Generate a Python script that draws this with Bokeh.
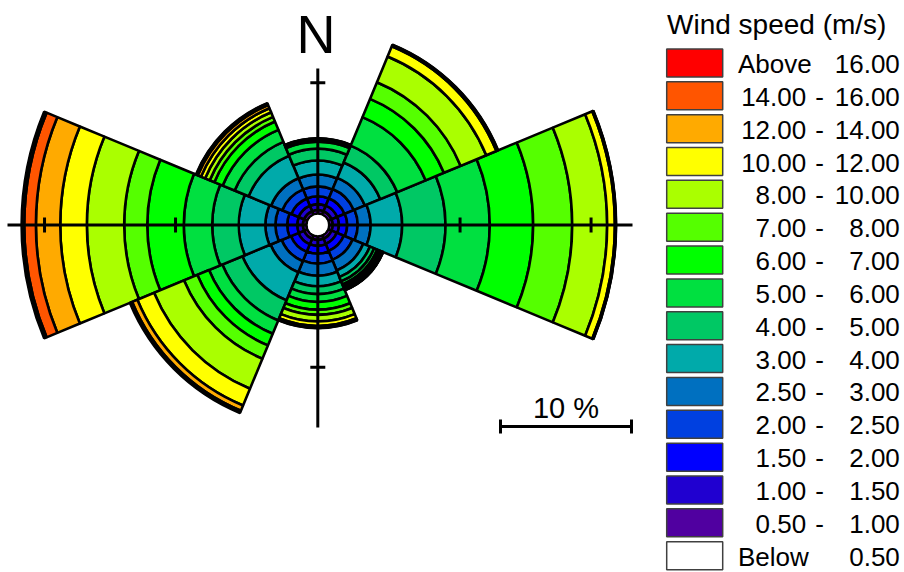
import numpy as np
from bokeh.plotting import figure
from bokeh.models import Range1d, ColumnDataSource
from bokeh.embed import file_html
from bokeh.resources import INLINE
from bokeh.core.properties import value

# ---------------- data ----------------
directions = ["N", "NE", "E", "SE", "S", "SW", "W", "NW"]
bearings = [0, 45, 90, 135, 180, 225, 270, 315]

# frequency (%) per speed class for each direction (order of `directions`)
f_050_100 = [0.28, 0.28, 0.28, 0.27, 0.28, 0.28, 0.28, 0.28]
f_100_150 = [0.45, 0.46, 0.47, 0.44, 0.45, 0.46, 0.43, 0.45]
f_150_200 = [0.60, 0.61, 0.63, 0.58, 0.60, 0.62, 0.76, 0.60]
f_200_250 = [0.75, 0.76, 0.80, 0.73, 0.75, 0.77, 0.90, 0.75]
f_250_300 = [0.90, 0.92, 0.98, 0.88, 0.92, 0.92, 0.76, 0.92]
f_300_400 = [1.07, 1.27, 2.42, 0.55, 0.80, 2.32, 2.04, 1.86]
f_400_500 = [0.90, 1.40, 3.31, 0.35, 0.60, 1.66, 2.03, 1.15]
f_500_600 = [0.55, 2.35, 3.38, 0.25, 0.60, 1.10, 2.17, 0.99]
f_600_700 = [0.08, 1.51, 3.31, 0.20, 0.60, 0.96, 2.79, 0.69]
f_700_800 = [0.05, 1.38, 2.98, 0.10, 0.40, 1.10, 1.76, 0.38]
f_800_1000 = [0.05, 2.12, 2.67, 0.10, 0.50, 2.48, 2.85, 0.38]
f_1000_1200 = [0.03, 0.84, 0.59, 0.05, 0.35, 1.38, 2.03, 0.34]
f_1200_1400 = [0.02, 0.08, 0.06, 0.02, 0.10, 0.43, 1.86, 0.27]
f_1400_1600 = [0.01, 0.04, 0.02, 0.01, 0.05, 0.12, 0.89, 0.12]
f_above_1600 = [0.01, 0.02, 0.01, 0.01, 0.02, 0.07, 0.20, 0.03]

class_freqs = [f_050_100, f_100_150, f_150_200, f_200_250, f_250_300,
               f_300_400, f_400_500, f_500_600, f_600_700, f_700_800,
               f_800_1000, f_1000_1200, f_1200_1400, f_1400_1600, f_above_1600]
class_colors = ["#5000A0", "#2000D0", "#0000FF", "#0040E0", "#0070C0",
                "#00AAAA", "#00C864", "#00E040", "#00FF00", "#55FF00",
                "#AAFF00", "#FFFF00", "#FFAA00", "#FF5500", "#FF0000"]

# legend (top to bottom)
legend_lo = ["Above", "14.00", "12.00", "10.00", "8.00", "7.00", "6.00", "5.00",
             "4.00", "3.00", "2.50", "2.00", "1.50", "1.00", "0.50", "Below"]
legend_hi = ["16.00", "16.00", "14.00", "12.00", "10.00", "8.00", "7.00", "6.00",
             "5.00", "4.00", "3.00", "2.50", "2.00", "1.50", "1.00", "0.50"]
legend_colors = class_colors[::-1] + ["#FFFFFF"]

calm_offset = 0.86      # radius of the central calm hole, in %
ring_ticks = [10, 20]   # % rings marked on the axes
scale_bar_pct = 10

# ---------------- layout ----------------
W, H = 902, 572
S = 13.1                 # pixels per percent
CX, CY = 317.3, 224.5    # rose centre in page pixels
OX, OY = 0, 0


def dx(ix):
    return (ix - CX) / S


def dy(iy):
    return (CY - iy) / S


p = figure(width=W, height=H,
           x_range=Range1d(dx(OX), dx(OX + W)),
           y_range=Range1d(dy(OY + H), dy(OY)),
           output_backend="svg", toolbar_location=None, min_border=0,
           x_axis_type=None, y_axis_type=None)
p.outline_line_color = None
p.background_fill_color = "white"
p.border_fill_color = "white"

FONT = value("Liberation Sans")

# ---------------- rose ----------------
b = np.array(bearings, dtype=float)
start = np.radians(90 - (b + 22.5))
end = np.radians(90 - (b - 22.5))
cum = np.zeros(len(directions))
for freqs, col in zip(class_freqs, class_colors):
    f = np.array(freqs)
    src = ColumnDataSource(dict(inner=calm_offset + cum, outer=calm_offset + cum + f,
                                start=start, end=end))
    p.annular_wedge(x=0, y=0, inner_radius="inner", outer_radius="outer",
                    start_angle="start", end_angle="end", source=src,
                    fill_color=col, line_color="black", line_width=2.6)
    cum = cum + f

# axes through the centre
p.segment(x0=[dx(7), 0], y0=[0, dy(68)], x1=[dx(632), 0], y1=[0, dy(427)],
          line_color="black", line_width=3)
tl = 7.5 / S
for t in ring_ticks:
    r = calm_offset + t
    p.segment(x0=[r, -r], y0=[-tl, -tl], x1=[r, -r], y1=[tl, tl],
              line_color="black", line_width=3)
r = calm_offset + ring_ticks[0]
p.segment(x0=[-tl, -tl], y0=[r, -r], x1=[tl, tl], y1=[r, -r],
          line_color="black", line_width=3)

# calm hole
p.circle(x=[0], y=[0], radius=calm_offset * 0.9, fill_color="white", line_color=None)

# north label
p.text(x=[dx(315.5)], y=[dy(33)], text=["N"], text_font=FONT,
       text_font_size=value("54px"), text_align="center",
       text_baseline="middle", text_color="black")

# scale bar
x0 = dx(500)
ys = dy(426)
p.segment(x0=[x0], y0=[ys], x1=[x0 + scale_bar_pct], y1=[ys], line_color="black", line_width=3)
p.segment(x0=[x0, x0 + scale_bar_pct], y0=[ys - 7 / S] * 2, x1=[x0, x0 + scale_bar_pct],
          y1=[ys + 7 / S] * 2, line_color="black", line_width=3)
p.text(x=[x0 + scale_bar_pct / 2], y=[dy(407)], text=[f"{scale_bar_pct} %"], text_font=FONT,
       text_font_size=value("29px"), text_align="center", text_baseline="middle")

# ---------------- legend ----------------
p.text(x=[dx(666.5)], y=[dy(24)], text=["Wind speed (m/s)"], text_font=FONT,
       text_font_size=value("28px"), text_align="left", text_baseline="middle")
rows = np.arange(len(legend_lo))
cy_img = 62.45 + 32.85 * rows
p.rect(x=[dx(694.2)] * len(rows), y=[dy(v) for v in cy_img], width=56, height=28,
       width_units="screen", height_units="screen", fill_color=legend_colors,
       line_color="#404040", line_width=1.5)
base = [dy(v + 1) for v in cy_img]
word_idx = [i for i, s in enumerate(legend_lo) if not s[0].isdigit()]
num_idx = [i for i, s in enumerate(legend_lo) if s[0].isdigit()]
LFS = value("26px")
p.text(x=[dx(737.5)] * len(word_idx), y=[base[i] for i in word_idx],
       text=[legend_lo[i] for i in word_idx], text_font=FONT, text_font_size=LFS,
       text_align="left", text_baseline="middle")
p.text(x=[dx(805.7)] * len(num_idx), y=[base[i] for i in num_idx],
       text=[legend_lo[i] for i in num_idx], text_font=FONT, text_font_size=LFS,
       text_align="right", text_baseline="middle")
p.text(x=[dx(819)] * len(num_idx), y=[base[i] for i in num_idx],
       text=["-"] * len(num_idx), text_font=FONT, text_font_size=LFS,
       text_align="center", text_baseline="middle")
p.text(x=[dx(899.3)] * len(rows), y=base, text=legend_hi, text_font=FONT,
       text_font_size=LFS, text_align="right", text_baseline="middle")

open("out.html", "w").write(file_html(p, INLINE))
